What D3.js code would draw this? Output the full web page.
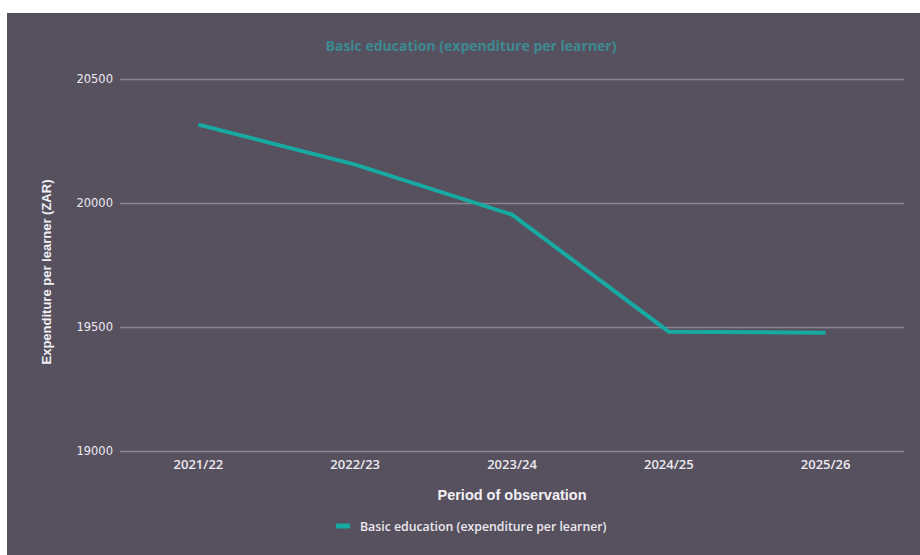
<!DOCTYPE html>
<html>
<head>
<meta charset="utf-8">
<script src="https://cdn.jsdelivr.net/npm/d3@7"></script>
<style>
  html, body { margin: 0; padding: 0; background: #ffffff; }
  svg { display: block; }
</style>
</head>
<body>
<svg id="chart" width="920" height="555"></svg>
<script>
// Basic education spending per learner by financial year
const periods = ["2021/22", "2022/23", "2023/24", "2024/25", "2025/26"];
const spendPerLearner = [20316, 20155, 19953, 19481, 19477];
const yTicks = [19000, 19500, 20000, 20500];
const seriesName = "Basic education (expenditure per learner)";

const W = 920, H = 555;
const panel = { x: 7, y: 13 };
const plot = { left: 120, right: 904, top: 79, bottom: 451 };

const svg = d3.select("#chart");

svg.append("rect")
  .attr("x", panel.x).attr("y", panel.y)
  .attr("width", W - panel.x).attr("height", H - panel.y)
  .attr("fill", "#57515f");

const x = d3.scaleBand().domain(periods).range([plot.left, plot.right]);
const y = d3.scaleLinear().domain([19000, 20500]).range([plot.bottom, plot.top]);

// Horizontal gridlines with value labels
const yAxis = svg.append("g")
  .attr("transform", `translate(${plot.left},0)`)
  .call(d3.axisLeft(y).tickValues(yTicks).tickFormat(d3.format("d"))
    .tickSize(-(plot.right - plot.left)).tickPadding(7));
yAxis.select(".domain").remove();
yAxis.selectAll(".tick line").attr("stroke", "#8c8494").attr("stroke-width", 1.3);
yAxis.selectAll(".tick text")
  .attr("fill", "#eceaf0")
  .attr("font-family", "'DejaVu Sans', Verdana, sans-serif")
  .attr("font-size", 11.5);

// Category labels
const xAxis = svg.append("g")
  .attr("transform", `translate(0,${plot.bottom})`)
  .call(d3.axisBottom(x).tickSize(0).tickPadding(9));
xAxis.select(".domain").remove();
xAxis.selectAll(".tick text")
  .attr("fill", "#eceaf0")
  .attr("font-family", "'Open Sans', sans-serif")
  .attr("font-weight", 600)
  .attr("font-size", 13);

// Series line
const line = d3.line()
  .x((d, i) => x(periods[i]) + x.bandwidth() / 2)
  .y(d => y(d));
svg.append("path")
  .datum(spendPerLearner)
  .attr("d", line)
  .attr("fill", "none")
  .attr("stroke", "#17aaa3")
  .attr("stroke-width", 4)
  .attr("stroke-linejoin", "miter");

// Title
svg.append("text")
  .attr("x", 471).attr("y", 51)
  .attr("text-anchor", "middle")
  .attr("fill", "#3d8a93")
  .attr("font-family", "'Open Sans', sans-serif")
  .attr("font-weight", 700)
  .attr("font-size", 14)
  .text(seriesName);

// Axis titles
svg.append("text")
  .attr("x", 512).attr("y", 500)
  .attr("text-anchor", "middle")
  .attr("fill", "#f2f0f4")
  .attr("font-family", "'Liberation Sans', Arial, sans-serif")
  .attr("font-weight", 700)
  .attr("font-size", 14.5)
  .text("Period of observation");

svg.append("text")
  .attr("transform", "translate(51,272) rotate(-90)")
  .attr("text-anchor", "middle")
  .attr("fill", "#f2f0f4")
  .attr("font-family", "'Liberation Sans', Arial, sans-serif")
  .attr("font-weight", 700)
  .attr("font-size", 13)
  .text("Expenditure per learner (ZAR)");

// Legend
const legend = svg.append("g").attr("transform", "translate(336,526)");
legend.append("rect")
  .attr("x", 0).attr("y", -2.5).attr("width", 14).attr("height", 5)
  .attr("fill", "#17aaa3");
legend.append("text")
  .attr("x", 24).attr("y", 4.5)
  .attr("fill", "#eceaf0")
  .attr("font-family", "'Open Sans', sans-serif")
  .attr("font-weight", 600)
  .attr("font-size", 12.3)
  .text(seriesName);
</script>
</body>
</html>
